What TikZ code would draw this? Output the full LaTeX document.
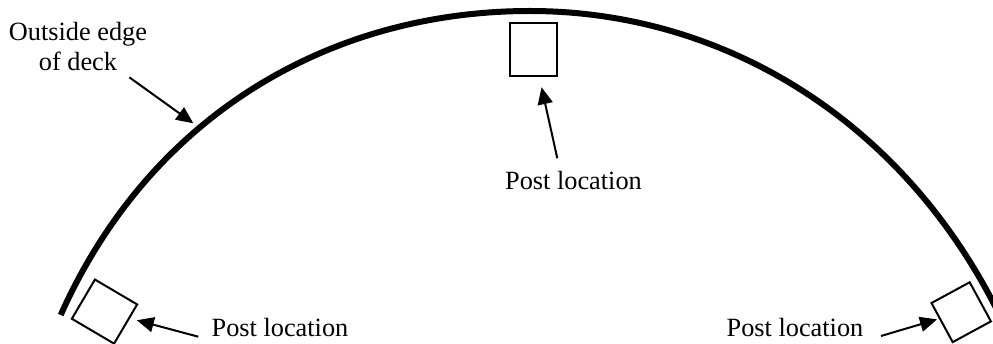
\documentclass[tikz,border=0pt]{standalone}
\usepackage{fontspec}
\setmainfont{Liberation Serif}
\usetikzlibrary{arrows.meta}
\tikzset{
  deck/.style={line width=6pt,line cap=butt},
  post/.style={draw,line width=2pt,fill=none,inner sep=0pt,outer sep=0pt},
  pointer/.style={line width=2pt,-{Triangle[length=17pt,width=15pt]}},
  lbl/.style={font=\fontsize{26.3}{30}\selectfont,inner sep=0pt,outer sep=0pt,anchor=base,align=center}
}
\begin{document}
\begin{tikzpicture}[x=1pt,y=-1pt]
\useasboundingbox (0,0) rectangle (993,344);
% deck edge
\coordinate (edgeL) at (60.7,315);
\coordinate (edgeT) at (530,11);
\coordinate (edgeR) at (1000,316);
\coordinate (edgeHit) at (193.3,123.3);
\draw[deck] (edgeL) .. controls (150,115) and (330,11) .. (edgeT)
                    .. controls (725,11) and (905,122) .. (edgeR);
% posts
\node[post,minimum width=46.5pt,minimum height=53pt] (sqT) at (533.3,50) {};
\node[post,minimum width=49pt,minimum height=45.5pt,rotate=-30.5] (sqL) at (104.5,311.6) {};
\node[post,minimum width=43.5pt,minimum height=44.5pt,rotate=28.5] (sqR) at (961.2,312.2) {};
% labels
\node[lbl] (deckLbl) at (78,70.7) {Outside edge\\of deck};
\node[lbl] (lblT) at (573.5,190) {Post location};
\node[lbl] (lblL) at (280,336.7) {Post location};
\node[lbl] (lblR) at (795,336.7) {Post location};
% arrow tails
\coordinate (tailDeck) at (129.3,77.3);
\coordinate (tailT) at (557.3,158.3);
\coordinate (tailL) at (198.3,336.7);
\coordinate (tailR) at (881,336);
\draw[pointer] (tailDeck) -- (edgeHit);
\draw[pointer,shorten >=11pt] (tailT) -- (sqT);
\draw[pointer,shorten >=8pt] (tailL) -- (sqL);
\draw[pointer,shorten >=3pt] (tailR) -- (sqR);
\end{tikzpicture}
\end{document}
